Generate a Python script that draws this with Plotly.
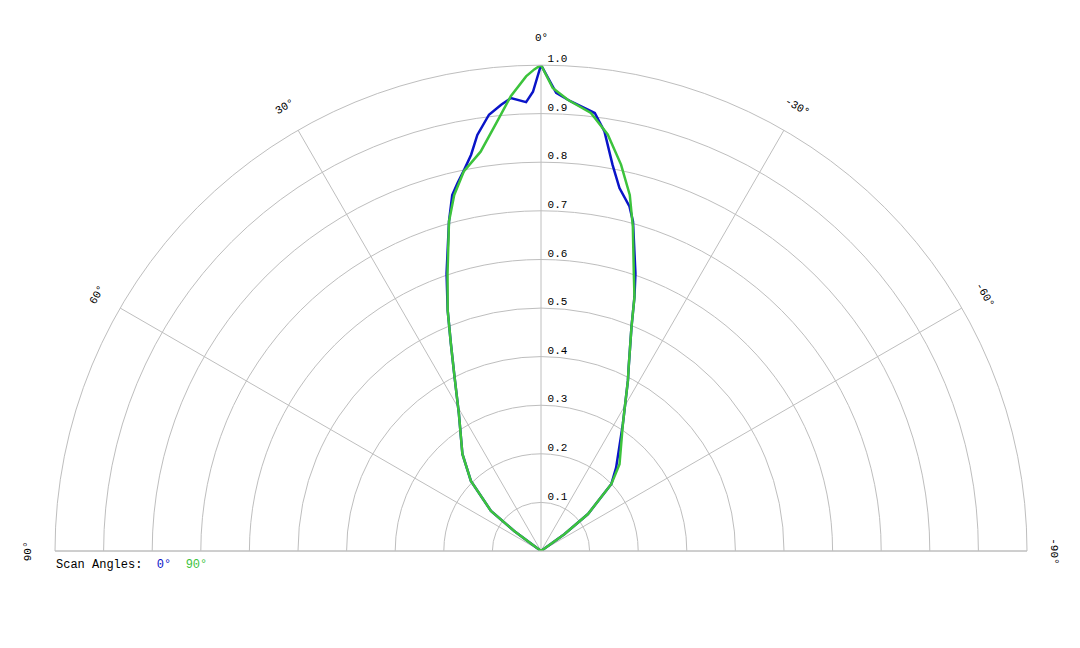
import plotly.graph_objects as go
import math

# Scan angle 0 deg (blue)
theta_0 = [90, 53.2, 51.3, 45, 39, 30.9, 26.1, 23.5, 21.2, 18.8, 15.6, 14.0, 12.8, 11.4, 10.0,
           8.7, 6.8, 5.1, 3.8, 1.9, 1.0, 0, -1.9, -3.8, -7.0, -8.6, -10.5, -12.2, -14.4, -15.6,
           -18.8, -20.2, -22.0, -25.5, -27.0, -32.8, -42.0, -46.4, -51.8, -54.4, -90]
r_0 = [0, 0.069, 0.132, 0.204, 0.257, 0.329, 0.406, 0.465, 0.531, 0.603, 0.704, 0.755, 0.776,
       0.800, 0.828, 0.866, 0.904, 0.922, 0.934, 0.924, 0.945, 1.0, 0.943, 0.927, 0.908, 0.873,
       0.808, 0.764, 0.732, 0.704, 0.603, 0.557, 0.497, 0.419, 0.394, 0.311, 0.231, 0.200,
       0.123, 0.059, 0]

# Scan angle 90 deg (green)
theta_90 = [90, 53.2, 51.3, 45, 39, 30.9, 26.1, 23.5, 21.2, 18.6, 15.6, 13.7, 11.5, 8.6, 5.8,
            3.8, 1.8, 0.8, 0, -1.45, -3.4, -6.5, -9.1, -11.7, -14.0, -15.8, -18.5, -20.2, -22.0,
            -25.5, -27.0, -32.8, -42.1, -46.4, -51.8, -54.4, -90]
r_90 = [0, 0.069, 0.132, 0.204, 0.257, 0.329, 0.406, 0.465, 0.531, 0.603, 0.704, 0.754, 0.797,
        0.831, 0.889, 0.938, 0.977, 0.991, 1.0, 0.953, 0.930, 0.907, 0.868, 0.812, 0.755, 0.694,
        0.602, 0.557, 0.497, 0.419, 0.394, 0.311, 0.241, 0.200, 0.123, 0.059, 0]

radial_ticks = [0.1, 0.2, 0.3, 0.4, 0.5, 0.6, 0.7, 0.8, 0.9, 1.0]
angle_ticks = [90, 60, 30, 0, -30, -60, -90]
angle_labels = ["90°", "60°", "30°", "0°", "-30°", "-60°", "-90°"]

BLUE = "rgb(10,20,200)"
GREEN = "rgb(60,195,60)"
GRID = "rgb(190,190,190)"
FONT = "Liberation Mono, Courier New, monospace"

W, H = 1080, 648
ML, MR, MT, MB = 47, 61, 57, 105
OFF = 7                             # page offset of the figure in the browser window
CX, CY, R = 540.0, 550.0, 486.0     # target pixel centre / radius of the polar subplot

fig = go.Figure()
fig.add_trace(go.Scatterpolar(theta=theta_0, r=r_0, mode="lines",
                              line=dict(color=BLUE, width=2.5), name="0°"))
fig.add_trace(go.Scatterpolar(theta=theta_90, r=r_90, mode="lines",
                              line=dict(color=GREEN, width=2.5), name="90°"))
# radial tick labels along 0 deg spoke
fig.add_trace(go.Scatterpolar(theta=[0] * len(radial_ticks), r=radial_ticks, mode="text",
                              text=[f" {v:.1f}" for v in radial_ticks],
                              textposition="top right",
                              textfont=dict(family=FONT, size=11, color="black"),
                              cliponaxis=False, hoverinfo="skip"))

fig.update_layout(
    width=W, height=H,
    margin=dict(l=ML, r=MR, t=MT, b=MB, pad=0),
    paper_bgcolor="white", plot_bgcolor="white",
    showlegend=False,
    font=dict(family=FONT, size=11, color="black"),
    polar=dict(
        domain=dict(x=[0, 1], y=[0, 1]),
        sector=[0, 180],
        bgcolor="white",
        angularaxis=dict(rotation=90, direction="counterclockwise",
                         tickmode="array", tickvals=angle_ticks,
                         showticklabels=False, ticks="",
                         showgrid=True, gridcolor=GRID, gridwidth=1,
                         showline=True, linecolor=GRID, linewidth=1),
        radialaxis=dict(range=[0, 1], tickmode="array", tickvals=radial_ticks,
                        showticklabels=False, ticks="", showline=False,
                        showgrid=True, gridcolor=GRID, gridwidth=1, angle=90),
    ),
)

plot_w = W - ML - MR
plot_h = H - MT - MB


def to_paper(px, py):
    px -= OFF
    py -= OFF
    return (px - ML) / plot_w, (H - MB - py) / plot_h


# rotated angular labels
rl = R * 1.055
for a, lab in zip(angle_ticks, angle_labels):
    px = CX - rl * math.sin(math.radians(a))
    py = CY - rl * math.cos(math.radians(a))
    xp, yp = to_paper(px, py)
    fig.add_annotation(x=xp, y=yp, xref="paper", yref="paper",
                       text=lab, showarrow=False, textangle=-a,
                       font=dict(family=FONT, size=11, color="black"),
                       xanchor="center", yanchor="middle")

lx, ly = to_paper(CX - R - 1, CY + 5)
fig.add_annotation(x=lx, y=ly, xref="paper", yref="paper", xanchor="left", yanchor="top",
                   showarrow=False,
                   text=f"Scan Angles:  <span style='color:{BLUE}'>0°</span>  "
                        f"<span style='color:{GREEN}'>90°</span>",
                   font=dict(family=FONT, size=12, color="black"))

fig.write_html("out.html")
